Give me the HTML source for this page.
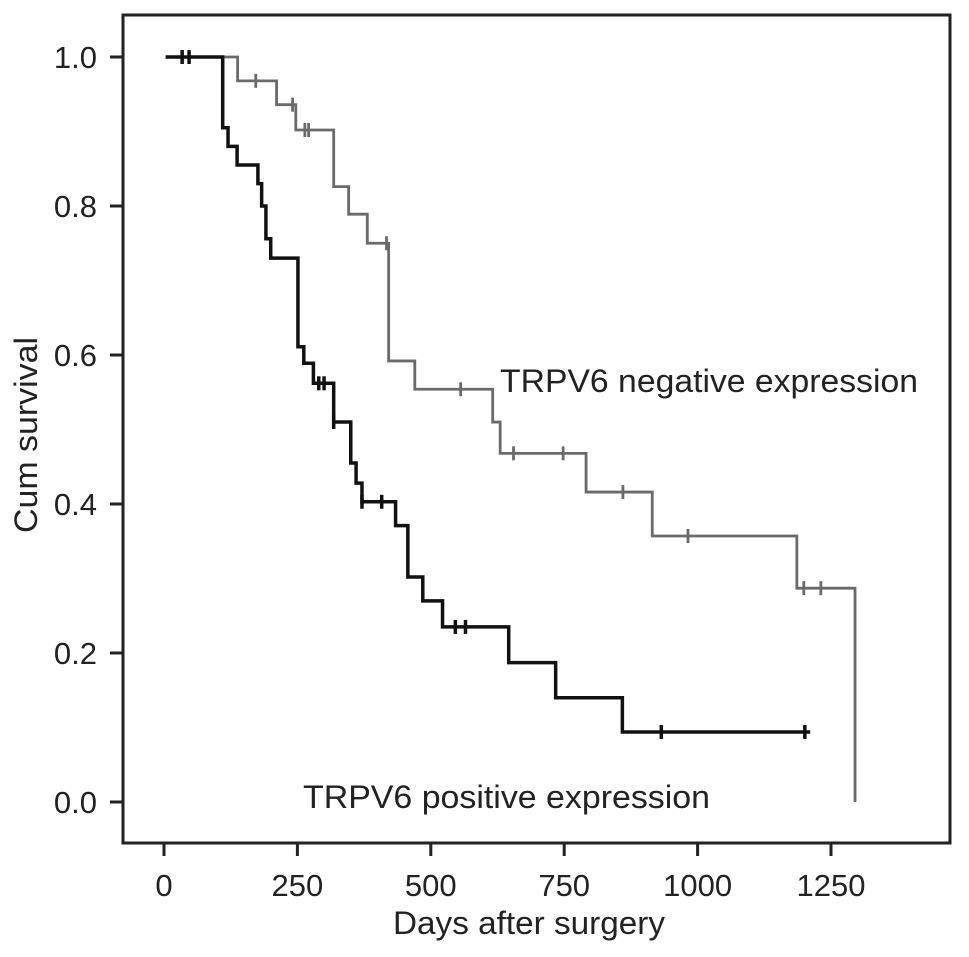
<!DOCTYPE html>
<html><head><meta charset="utf-8"><style>body{margin:0;background:#fff}svg{display:block}text{font-family:"Liberation Sans",Arial,sans-serif;fill:#222}</style></head>
<body>
<svg id="chart" width="969" height="957" viewBox="0 0 969 957" xmlns="http://www.w3.org/2000/svg">
<rect x="123" y="15" width="827" height="828" fill="none" stroke="#222" stroke-width="3"/>
<g id="axes"></g><g id="series"></g>
<text x="393" y="934" font-size="32" textLength="272" lengthAdjust="spacingAndGlyphs">Days after surgery</text>
<text transform="translate(37,435) rotate(-90)" font-size="32" text-anchor="middle" textLength="196" lengthAdjust="spacingAndGlyphs">Cum survival</text>
<text x="500" y="392" font-size="32" textLength="418" lengthAdjust="spacingAndGlyphs">TRPV6 negative expression</text>
<text x="303" y="808" font-size="32" textLength="407" lengthAdjust="spacingAndGlyphs">TRPV6 positive expression</text>
</svg>
<script>
const xTicks=[0,250,500,750,1000,1250];
const yTicks=[0,0.2,0.4,0.6,0.8,1.0];
const negTimes=[138,211,247,318,346,381,421,470,616,630,791,915,1186,1295];
const negSurv=[0.968,0.936,0.902,0.826,0.789,0.750,0.592,0.554,0.510,0.468,0.416,0.357,0.287,0.0];
const negCensor=[34,47,172,241,264,271,417,556,655,748,860,982,1199,1231];
const negEnd=1295;
const posTimes=[110,120,137,176,183,191,200,251,262,280,318,350,360,371,408,434,457,485,522,646,734,859];
const posSurv=[0.905,0.88,0.855,0.83,0.80,0.756,0.730,0.611,0.589,0.562,0.51,0.455,0.428,0.403,0.403,0.371,0.302,0.270,0.235,0.187,0.140,0.094];
const posCensor=[34,47,290,300,318,371,408,546,565,932,1201];
const posEnd=1211;
const NS='http://www.w3.org/2000/svg';
const X=d=>164+d*(831-164)/1250;
const Y=v=>802-v*745;
function el(t,a,p){const e=document.createElementNS(NS,t);for(const k in a)e.setAttribute(k,a[k]);p.appendChild(e);return e;}
const ax=document.getElementById('axes');
xTicks.forEach(t=>{
 const l=el('line',{x1:X(t),x2:X(t),y1:843,y2:856,stroke:'#222','stroke-width':3},ax);
 
 
 const tx=el('text',{x:X(t),y:896,'font-size':31,'text-anchor':'middle'},ax);tx.textContent=t;
 
 
});
yTicks.forEach(t=>{
 const l=el('line',{x1:110,x2:123,y1:Y(t),y2:Y(t),stroke:'#222','stroke-width':3},ax);
 
 
 const tx=el('text',{x:97,y:Y(t)+11,'font-size':31,'text-anchor':'end'},ax);tx.textContent=t.toFixed(1);
 
 
});
function surv(times,s,t){let v=1;for(let i=0;i<times.length;i++)if(times[i]<=t)v=s[i];return v;}
function draw(times,s,cens,end,color,w,name){
 const g=document.getElementById('series');
 let d='M'+X(3)+','+Y(1);
 times.forEach((t,i)=>{d+=' H'+X(t)+' V'+Y(s[i]);});
 if(end>times[times.length-1])d+=' H'+X(end);
 const p=el('path',{d:d,fill:'none',stroke:color,'stroke-width':w},g);
 
 
 cens.forEach(c=>{const y=Y(surv(times,s,c));
  const m=el('line',{x1:X(c),x2:X(c),y1:y-7,y2:y+7,stroke:color,'stroke-width':w},g);
  
  });
}
draw(negTimes,negSurv,negCensor,negEnd,'#6a6a6a',2.8,'negative');
draw(posTimes,posSurv,posCensor,posEnd,'#111',3.5,'positive');
</script>
</body></html>
